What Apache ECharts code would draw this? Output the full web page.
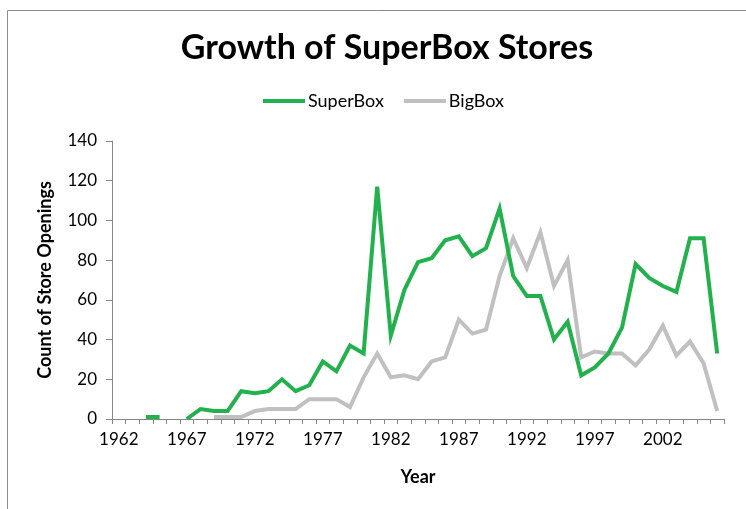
<!DOCTYPE html>
<html>
<head>
<meta charset="utf-8">
<script src="https://cdn.jsdelivr.net/npm/echarts@6/dist/echarts.min.js"></script>
<style>
  html, body { margin: 0; padding: 0; background: #fff; }
  #chart { width: 746px; height: 509px; }
</style>
</head>
<body>
<div id="chart"></div>
<script>
// Store openings per year, 1962-2006
const years = [];
for (let y = 1962; y <= 2006; y++) years.push(String(y));

const superBox = [
  null, null, 1, 1, null, 0, 5, 4, 4, 14,
  13, 14, 20, 14, 17, 29, 24, 37, 33, 117,
  42, 65, 79, 81, 90, 92, 82, 86, 106, 72,
  62, 62, 40, 49, 22, 26, 33, 46, 78, 71,
  67, 64, 91, 91, 33
];

const bigBox = [
  null, null, null, null, null, null, null, 1, 1, 1,
  4, 5, 5, 5, 10, 10, 10, 6, 21, 33,
  21, 22, 20, 29, 31, 50, 43, 45, 72, 91,
  76, 94, 67, 80, 31, 34, 33, 33, 27, 35,
  47, 32, 39, 28, 4
];

const yTicks = { min: 0, max: 140, step: 20 };

const FONT = 'Lato, "Open Sans", sans-serif';
const chart = echarts.init(document.getElementById('chart'), null, { renderer: 'canvas' });

chart.setOption({
  backgroundColor: '#ffffff',
  animation: false,
  graphic: [{
    type: 'rect',
    shape: { x: 7.5, y: 10.5, width: 760, height: 520 },
    style: { fill: 'none', stroke: '#8c8c8c', lineWidth: 1 },
    silent: true
  }],
  title: {
    text: 'Growth of SuperBox Stores',
    left: 382,
    top: 26,
    textAlign: 'center',
    textStyle: { fontFamily: FONT, fontWeight: 'bold', fontSize: 34, color: '#000' }
  },
  legend: {
    data: ['SuperBox', 'BigBox'],
    left: 263,
    top: 92,
    padding: 0,
    icon: 'rect',
    itemWidth: 42,
    itemHeight: 4,
    itemGap: 20,
    textStyle: { fontFamily: FONT, fontSize: 18, color: '#000', padding: [0, 0, 0, -2] }
  },
  grid: { left: 112, right: 22, top: 141, bottom: 90, containLabel: false },
  xAxis: {
    type: 'category',
    data: years,
    boundaryGap: true,
    name: 'Year',
    nameLocation: 'middle',
    nameGap: 49,
    nameTextStyle: { fontFamily: FONT, fontWeight: 'bold', fontSize: 18, color: '#000' },
    axisLine: { lineStyle: { color: '#868686', width: 1 } },
    axisTick: { show: true, interval: 0, length: 5, lineStyle: { color: '#868686' } },
    axisLabel: { interval: 4, margin: 12, fontFamily: FONT, fontSize: 17, color: '#000' },
    splitLine: { show: false }
  },
  yAxis: {
    type: 'value',
    min: yTicks.min,
    max: yTicks.max,
    interval: yTicks.step,
    name: 'Count of Store Openings',
    nameLocation: 'middle',
    nameRotate: 90,
    nameGap: 58,
    nameTextStyle: { fontFamily: FONT, fontWeight: 'bold', fontSize: 18, color: '#000' },
    axisLine: { show: true, lineStyle: { color: '#868686', width: 1 } },
    axisTick: { show: true, length: 6, lineStyle: { color: '#868686' } },
    axisLabel: { margin: 15, fontFamily: FONT, fontSize: 17, color: '#000' },
    splitLine: { show: false }
  },
  series: [
    {
      name: 'SuperBox',
      type: 'line',
      data: superBox,
      connectNulls: false,
      showSymbol: false,
      symbol: 'none',
      lineStyle: { color: '#22b14c', width: 4, join: 'miter' },
      itemStyle: { color: '#22b14c' },
      z: 3
    },
    {
      name: 'BigBox',
      type: 'line',
      data: bigBox,
      connectNulls: false,
      showSymbol: false,
      symbol: 'none',
      lineStyle: { color: '#c0c0c0', width: 4, join: 'miter' },
      itemStyle: { color: '#c0c0c0' },
      z: 2
    }
  ]
});
</script>
</body>
</html>
